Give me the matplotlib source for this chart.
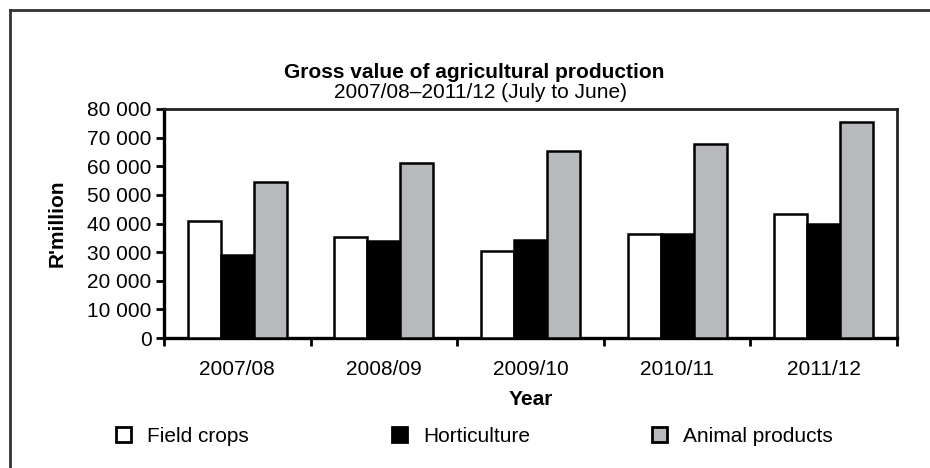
import matplotlib
matplotlib.use("Agg")
import matplotlib.pyplot as plt
import numpy as np
from matplotlib.patches import Patch
from matplotlib.lines import Line2D

plt.rcParams['font.family'] = ['Liberation Sans', 'DejaVu Sans']

years = ["2007/08", "2008/09", "2009/10", "2010/11", "2011/12"]
field_crops = [41000, 35300, 30500, 36400, 43200]
horticulture = [29100, 34000, 34100, 36500, 39700]
animal_products = [54400, 61200, 65400, 67700, 75600]
series_names = ["Field crops", "Horticulture", "Animal products"]
series_colors = ["#ffffff", "#000000", "#b8b9bd"]
yticks = [0, 10000, 20000, 30000, 40000, 50000, 60000, 70000, 80000]
ytick_labels = ["0", "10 000", "20 000", "30 000", "40 000", "50 000", "60 000", "70 000", "80 000"]

W, H = 930, 468
FS = 15
fig = plt.figure(figsize=(W / 100, H / 100), dpi=100)

# outer frame (top and left visible)
fig.add_artist(Line2D([9.5 / W, 9.5 / W], [0, 1 - 9.5 / H], transform=fig.transFigure, color="#333333", lw=2))
fig.add_artist(Line2D([9.5 / W, 1], [1 - 9.5 / H, 1 - 9.5 / H], transform=fig.transFigure, color="#333333", lw=2))

left, right, top, bottom = 164, 897, 109, 338
ax = fig.add_axes([left / W, 1 - bottom / H, (right - left) / W, (bottom - top) / H])

x = np.arange(len(years))
bw = 0.225
data = [field_crops, horticulture, animal_products]
for i, (vals, col) in enumerate(zip(data, series_colors)):
    ax.bar(x + (i - 1) * bw, vals, width=bw, color=col, edgecolor="black", linewidth=1.8, zorder=3)

ax.set_xlim(-0.5, len(years) - 0.5)
ax.set_ylim(0, 80000)
ax.set_yticks(yticks)
ax.set_yticklabels(ytick_labels, fontsize=FS)
ax.set_xticks(np.arange(-0.5, len(years), 1.0))
ax.set_xticklabels([])
ax.set_xticks(x, minor=True)
ax.set_xticklabels(years, minor=True, fontsize=FS)
ax.tick_params(axis="x", which="minor", length=0, pad=16)
ax.tick_params(axis="x", which="major", length=6, width=2, direction="out")
ax.tick_params(axis="y", length=6, width=2, direction="out", pad=3)

for s in ["left", "bottom"]:
    ax.spines[s].set_linewidth(2.4)
for s in ["top", "right"]:
    ax.spines[s].set_linewidth(2.0)
    ax.spines[s].set_color("#222222")

ax.set_ylabel("R'million", fontsize=FS, fontweight="bold", labelpad=15)
ax.set_xlabel("Year", fontsize=FS, fontweight="bold", labelpad=8)

fig.text(474 / W, 1 - 73 / H, "Gross value of agricultural production", ha="center", va="center",
         fontsize=FS, fontweight="bold")
fig.text(480 / W, 1 - 93 / H, "2007/08\u20132011/12 (July to June)", ha="center", va="center",
         fontsize=FS)

legend_x = [116, 392, 652]
for name, col, lx in zip(series_names, series_colors, legend_x):
    h = Patch(facecolor=col, edgecolor="black", linewidth=2.0)
    fig.legend(handles=[h], labels=[name], loc="center left",
               bbox_to_anchor=(lx / W, 1 - 436 / H), frameon=False, fontsize=FS,
               handlelength=0.7, handleheight=0.7, handletextpad=0.8, borderpad=0, borderaxespad=0)

fig.savefig("out.png", dpi=100)
